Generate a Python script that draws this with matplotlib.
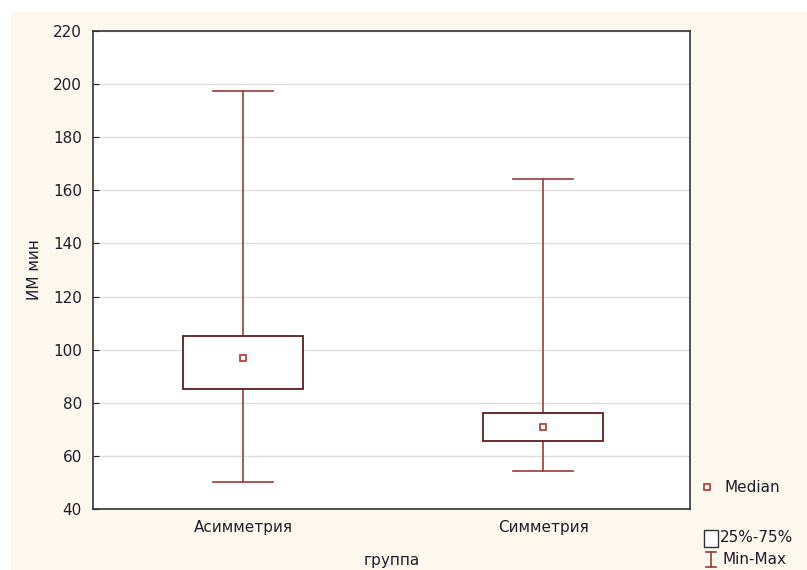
import matplotlib.pyplot as plt
from matplotlib.patches import Rectangle
from matplotlib.lines import Line2D

plt.rcParams['font.family'] = ['DejaVu Sans']

groups = ["Асимметрия", "Симметрия"]
medians = [97, 71]
q1 = [85.2, 65.6]
q3 = [105, 76.2]
mins = [50, 54.3]
maxs = [197.3, 164.2]

box_edge = "#5e1c1c"
whisk = "#9e3a3a"
med_col = "#b03535"
cream = "#fdf8ee"
txt = "#1e1e2a"

fig = plt.figure(figsize=(8.07, 5.70), dpi=100)
fig.patch.set_facecolor("white")
fig.patches.append(Rectangle((11 / 807, 0), 1, 1 - 12 / 570, transform=fig.transFigure,
                             facecolor=cream, edgecolor="none", zorder=-10))

ax = fig.add_axes([93 / 807, 1 - 509 / 570, 597 / 807, 478 / 570])
ax.set_facecolor("white")

pos = [1, 2]
bw = 0.4
cw = 0.2
for x, md, lo, hi, mn, mx in zip(pos, medians, q1, q3, mins, maxs):
    ax.plot([x, x], [hi, mx], color=whisk, lw=1.2, zorder=2)
    ax.plot([x, x], [mn, lo], color=whisk, lw=1.2, zorder=2)
    ax.plot([x - cw / 2, x + cw / 2], [mx, mx], color=whisk, lw=1.2, zorder=2)
    ax.plot([x - cw / 2, x + cw / 2], [mn, mn], color=whisk, lw=1.2, zorder=2)
    ax.add_patch(Rectangle((x - bw / 2, lo), bw, hi - lo, facecolor="white",
                           edgecolor=box_edge, lw=1.3, zorder=3))
    ax.plot([x], [md], marker="s", ms=5, mfc="white", mec=med_col, mew=1.2, zorder=4)

ax.set_xlim(0.5, 2.49)
ax.set_ylim(40, 220)
ax.set_yticks(range(40, 221, 20))
ax.set_xticks(pos)
ax.set_xticklabels(groups)
ax.yaxis.grid(True, color="#dddddd", lw=1)
ax.set_axisbelow(True)
ax.tick_params(axis="y", direction="in", length=4, labelsize=11, pad=8, colors=txt)
ax.tick_params(axis="x", length=0, labelsize=11, pad=8, colors=txt)
for s in ax.spines.values():
    s.set_color("#333333")
    s.set_linewidth(1.2)
ax.set_ylabel("ИМ мин", fontsize=11, labelpad=8, color=txt)
ax.set_xlabel("группа", fontsize=11, labelpad=13, color=txt)

# legend drawn outside the axes
fig.add_artist(Line2D([707 / 807], [1 - 487 / 570], marker="s", ms=5, mfc="white",
                      mec=med_col, mew=1.2, transform=fig.transFigure))
fig.text(725 / 807, 1 - 487 / 570, "Median", fontsize=11, va="center", color=txt)
fig.patches.append(Rectangle((704 / 807, 1 - 547 / 570), 14 / 807, 17 / 570,
                             transform=fig.transFigure, facecolor="white",
                             edgecolor="#333333", lw=1))
fig.text(720 / 807, 1 - 537 / 570, "25%-75%", fontsize=11, va="center", color=txt)
fig.add_artist(Line2D([711 / 807, 711 / 807], [1 - 552 / 570, 1 - 567 / 570],
                      color=whisk, lw=1.2, transform=fig.transFigure))
fig.add_artist(Line2D([706 / 807, 716 / 807], [1 - 552 / 570, 1 - 552 / 570],
                      color=whisk, lw=1.2, transform=fig.transFigure))
fig.add_artist(Line2D([706 / 807, 716 / 807], [1 - 567 / 570, 1 - 567 / 570],
                      color=whisk, lw=1.2, transform=fig.transFigure))
fig.text(722 / 807, 1 - 560 / 570, "Min-Max", fontsize=11, va="center", color=txt)

fig.savefig("out.png", dpi=100, facecolor=fig.get_facecolor())
